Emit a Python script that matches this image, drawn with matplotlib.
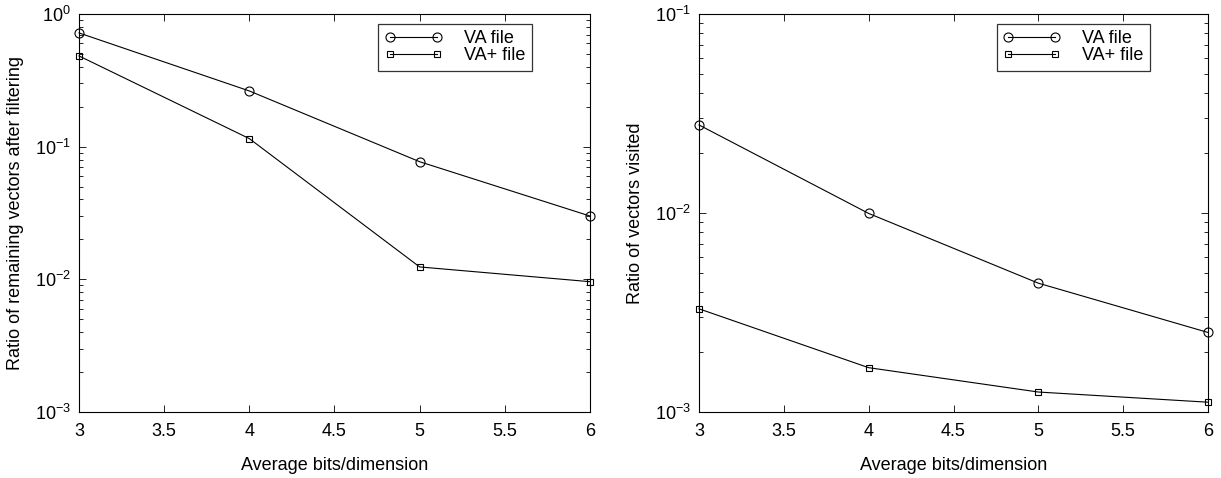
import matplotlib
matplotlib.use("Agg")
import matplotlib.pyplot as plt
from matplotlib.ticker import LogLocator

plt.rcParams['font.family'] = ['Liberation Sans', 'DejaVu Sans']
plt.rcParams['mathtext.fontset'] = 'custom'
plt.rcParams['mathtext.rm'] = 'Liberation Sans'
plt.rcParams['mathtext.it'] = 'Liberation Sans'

bits = [3, 4, 5, 6]
# Left panel: ratio of remaining vectors after filtering
left_va = [0.72, 0.263, 0.077, 0.030]
left_vaplus = [0.483, 0.115, 0.0124, 0.0096]
# Right panel: ratio of vectors visited
right_va = [0.0277, 0.00995, 0.00444, 0.00251]
right_vaplus = [0.0033, 0.00167, 0.00126, 0.00112]

xticks = [3, 3.5, 4, 4.5, 5, 5.5, 6]
xticklabels = ['3', '3.5', '4', '4.5', '5', '5.5', '6']

fig = plt.figure(figsize=(12.21, 4.78), dpi=100)
ax1 = fig.add_axes([79/1221, 66/478, 511/1221, 398/478])
ax2 = fig.add_axes([699/1221, 66/478, 509/1221, 398/478])

panels = [
    (ax1, left_va, left_vaplus, (1e-3, 1e0), 'Ratio of remaining vectors after filtering'),
    (ax2, right_va, right_vaplus, (1e-3, 1e-1), 'Ratio of vectors visited'),
]

for ax, va, vap, ylim, ylabel in panels:
    ax.plot(bits, va, color='black', lw=0.8, marker='o', ms=6.5, mfc='none',
            mec='black', mew=0.8, label='VA file', clip_on=False, zorder=3)
    ax.plot(bits, vap, color='black', lw=0.8, marker='s', ms=5, mfc='none',
            mec='black', mew=0.8, label='VA+ file', clip_on=False, zorder=3)
    ax.set_yscale('log')
    ax.set_ylim(*ylim)
    ax.set_xlim(3, 6)
    ax.set_xticks(xticks)
    ax.set_xticklabels(xticklabels)
    ax.yaxis.set_minor_locator(LogLocator(base=10, subs=range(2, 10), numticks=20))
    ax.tick_params(which='both', direction='in', top=True, right=True, labelsize=13)
    ax.tick_params(which='major', length=5, width=0.6)
    ax.tick_params(which='minor', length=3, width=0.6)
    ax.tick_params(axis='x', pad=8)
    ax.tick_params(axis='y', pad=6)
    for s in ax.spines.values():
        s.set_linewidth(0.8)
    ax.set_xlabel('Average bits/dimension', fontsize=13, labelpad=12)
    ax.set_ylabel(ylabel, fontsize=13, labelpad=8)
    leg = ax.legend(loc='upper right', bbox_to_anchor=(0.886, 0.975), fontsize=13,
                    frameon=True, fancybox=False, edgecolor='black', numpoints=2,
                    handlelength=3.2, handletextpad=1.2, borderpad=0.35,
                    labelspacing=0.0, borderaxespad=0)
    leg.get_frame().set_linewidth(0.9)

fig.savefig('out.png', dpi=100)
